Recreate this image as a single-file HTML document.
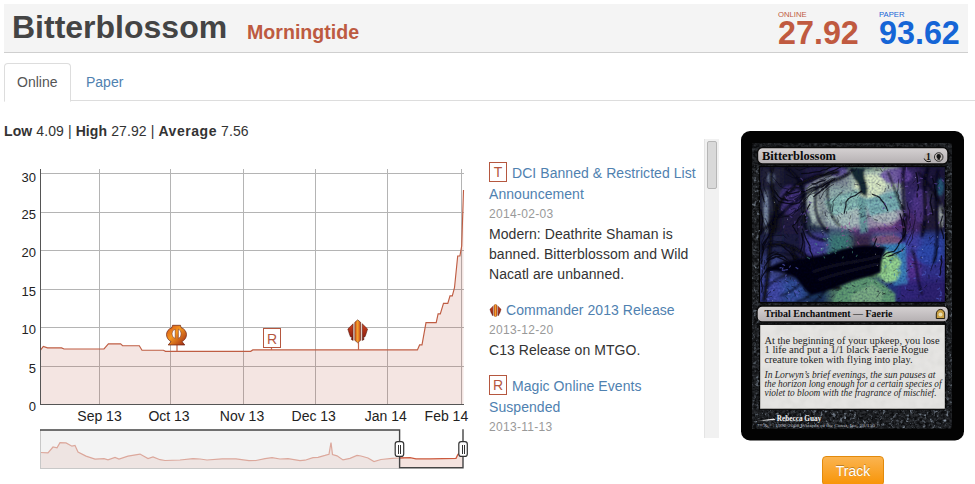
<!DOCTYPE html>
<html lang="en">
<head>
<meta charset="utf-8">
<title>Bitterblossom - Morningtide</title>
<style>
html,body{margin:0;padding:0;}
body{width:975px;height:484px;overflow:hidden;background:#fff;position:relative;
  font-family:"Liberation Sans",Arial,sans-serif;font-size:14px;line-height:20px;color:#333;}
.abs{position:absolute;white-space:nowrap;}
#hdr{position:absolute;left:4px;top:4px;width:964px;height:48px;background:#f4f4f4;border-bottom:1px solid #cfcfcf;}
#ttl{left:12px;top:9px;font-size:32px;line-height:36px;font-weight:bold;color:#444;}
#set{left:247px;top:20px;font-size:19.6px;line-height:24px;font-weight:bold;color:#bd5a41;}
.plab{font-size:7.7px;line-height:8px;}
.pval{font-size:32.3px;line-height:32px;font-weight:bold;}
.on{color:#c05a40;}
.pa{color:#1565d6;}
#tabs{position:absolute;left:4px;top:63px;width:971px;height:37px;border-bottom:1px solid #ddd;}
#tab1{position:absolute;left:0;top:0;width:65px;height:37px;border:1px solid #ddd;border-bottom-color:#fff;border-radius:4px 4px 0 0;background:#fff;}
#tab1 span{position:absolute;left:12px;top:8px;color:#555;}
#tab2{left:86px;top:72px;color:#4f81b0;}
a{color:#4f81b0;text-decoration:none;}
#stats{left:4px;top:121px;letter-spacing:.1px;}
#stats b{color:#333;}
.news{position:absolute;left:489px;}
.sym{box-sizing:border-box;width:18px;height:20px;border:1px solid #b5573f;color:#b5573f;text-align:center;line-height:18px;background:#fff;}
.ln{letter-spacing:.06px;}
.date{color:#999;font-size:12px;letter-spacing:.3px;}
#sb{position:absolute;left:704px;top:139px;width:14px;height:299px;background:#f1f1f1;border-left:1px solid #e4e4e4;}
#sbt{position:absolute;left:2px;top:2px;width:8px;height:46px;background:#d9d9d9;border:1px solid #b6b6b6;border-radius:2px;}
#track{position:absolute;left:822px;top:456px;width:60px;height:28px;border:1px solid #e28a0c;border-radius:4px;
  background:linear-gradient(#fbb450,#f89406);color:#fff;text-align:center;line-height:28px;text-shadow:0 -1px 0 rgba(0,0,0,.25);}
</style>
</head>
<body>
<div id="hdr"></div>
<div class="abs" id="ttl">Bitterblossom</div>
<div class="abs" id="set">Morningtide</div>
<div class="abs plab on" style="left:778px;top:11px;">ONLINE</div>
<div class="abs pval on" style="left:778px;top:17px;">27.92</div>
<div class="abs plab pa" style="left:879px;top:11px;">PAPER</div>
<div class="abs pval pa" style="left:879px;top:17px;">93.62</div>

<div id="tabs"><div id="tab1"><span>Online</span></div></div>
<a class="abs" id="tab2">Paper</a>

<div class="abs" id="stats"><b>Low</b> 4.09 | <b>High</b> 27.92 | <b style="letter-spacing:.55px">Average</b> 7.56</div>

<!-- CHART -->
<svg id="chart" class="abs" style="left:0;top:160px;" width="490" height="324" viewBox="0 160 490 324" font-family="Liberation Sans, Arial, sans-serif">
<g shape-rendering="crispEdges" stroke="#b4b4b4" stroke-width="1">
<path d="M99.5 169V405M170.5 169V405M243.5 169V405M315.5 169V405M387.5 169V405M461.5 169V405"/>
<path d="M40 173.5H464M40 212.5H464M40 250.5H464M40 289.5H464M40 327.5H464M40 366.5H464"/>
</g>
<path id="area" fill="#b5533c" fill-opacity="0.15" d="M40.5 405L40.5 350.2L43.3 346.4L47.5 347.9L61.6 347.9L64 349L104 349L108.4 343.9L120.6 343.9L122.6 345.7L139.3 345.7L142 350.2L163.4 350.2L165.5 351.3L250.7 351.3L252.8 349.9L417.4 349.9L419.6 344.9L422 344.9L426 322.6L436.2 322.6L438.1 313.8L440.3 313.8L443.5 303.3L447.8 303.3L450 295.8L452.3 295.8L454.5 287.7L457.7 256L459.9 256L461.7 246L463.5 190L463.5 405Z"/>
<path id="line" fill="none" stroke="#bf5d43" stroke-width="1.15" d="M40.5 350.2L43.3 346.4L47.5 347.9L61.6 347.9L64 349L104 349L108.4 343.9L120.6 343.9L122.6 345.7L139.3 345.7L142 350.2L163.4 350.2L165.5 351.3L250.7 351.3L252.8 349.9L417.4 349.9L419.6 344.9L422 344.9L426 322.6L436.2 322.6L438.1 313.8L440.3 313.8L443.5 303.3L447.8 303.3L450 295.8L452.3 295.8L454.5 287.7L457.7 256L459.9 256L461.7 246L463.5 190"/>
<g shape-rendering="crispEdges" stroke="#555" stroke-width="1">
<path d="M40.5 169V405M40 404.5H464"/>
</g>
<g font-size="13" fill="#222" text-anchor="end">
<text x="36" y="182">30</text>
<text x="36" y="219">25</text>
<text x="36" y="257">20</text>
<text x="36" y="295.5">15</text>
<text x="36" y="334">10</text>
<text x="36" y="372.5">5</text>
<text x="36" y="411">0</text>
</g>
<g font-size="14" fill="#222" text-anchor="middle">
<text x="99.5" y="420.7">Sep 13</text>
<text x="169" y="420.7">Oct 13</text>
<text x="242" y="420.7">Nov 13</text>
<text x="313.7" y="420.7">Dec 13</text>
<text x="385.8" y="420.7">Jan 14</text>
<text x="446.4" y="420.7">Feb 14</text>
</g>
<!-- annotations -->
<g stroke="#c4654c" stroke-width="1.2"><path d="M177 345V351M271.5 347V350M358.5 342V350"/></g>
<g id="ths" transform="translate(166.5 325.3)">
<defs><linearGradient id="og" x1="0" y1="0" x2="1" y2="1"><stop offset="0" stop-color="#cf4a1a"/><stop offset=".42" stop-color="#f5981f"/><stop offset="1" stop-color="#9a2214"/></linearGradient></defs>
<path fill="url(#og)" stroke="#6a1e10" stroke-width=".7" d="M6 0H14L14.500 2.200C18 3.500 20 6.300 20 9.300C20 12.500 18 15 15.500 16.300L18.300 19.700H1.700L4.500 16.300C2 15 0 12.500 0 9.300C0 6.300 2 3.500 5.500 2.200Z"/>
<path fill="#fff" stroke="#6a1e10" stroke-width=".5" d="M8.700 3.900V13.100A4 4.700 0 0 1 8.700 3.900Z"/>
<path fill="#fff" stroke="#6a1e10" stroke-width=".5" d="M11.900 3.900A3.400 4.700 0 0 1 11.900 13.100Z"/>
</g>
<rect x="263.5" y="328.5" width="17" height="19" fill="#fff" stroke="#b5573f" stroke-width="1" shape-rendering="crispEdges"/>
<text x="272" y="343.5" font-size="14" fill="#b5573f" text-anchor="middle">R</text>
<g id="c13" transform="translate(347.8 319.8)">
<defs><linearGradient id="cg" x1="0" y1="0" x2="1" y2="0"><stop offset="0" stop-color="#d2501a"/><stop offset=".5" stop-color="#f4a42c"/><stop offset="1" stop-color="#c43c18"/></linearGradient>
<linearGradient id="wg" x1="0" y1="0" x2="0" y2="1"><stop offset="0" stop-color="#cc421e"/><stop offset="1" stop-color="#80180e"/></linearGradient></defs>
<path fill="#f6efe6" d="M5 3.500L9.900 .3L14.800 3.500V20.700L9.900 22.800L5 20.700Z"/>
<path fill="url(#wg)" stroke="#4a120a" stroke-width=".5" d="M5.300 4L0 9.200L1.500 14L2.600 17L4.100 17.500L3.500 19.600L5.300 20.600Z"/>
<path fill="url(#wg)" stroke="#4a120a" stroke-width=".5" d="M14.500 4L19.800 9.200L18.300 14L17.200 17L15.700 17.500L16.300 19.600L14.500 20.600Z"/>
<path fill="url(#cg)" stroke="#4a120a" stroke-width=".5" d="M9.900 0L12.800 2.500V20.500L9.900 23L7 20.500V2.500Z"/>
</g>
<!-- navigator -->
<rect x="40.500" y="430" width="359" height="38" fill="#f3f3f3"/>
<path fill="#c4654c" fill-opacity=".10" d="M40.500 468L40.500 452.500L48 452.800L53 447L57 447.800L60 442.600L66 442.900L72 446.200L75 445.400L78 452L86 456.100L95 459.100L104 458.600L108 459.800L115 457.400L119 459.100L128 456.100L140 454.100L148 458.600L153 456.900L160 459.700L165 460.500L180 460L193 458.600L200 459L207 460L222 458.800L236 458.800L249 460.700L256 460.500L265 458.600L272 457.700L280 459L288 458.600L300 460.600L305 460.200L313 457.700L318 457.300L325 455.400L329 454.200L331 442.500L332.500 454.500L337 455.800L343 459.900L350 458.400L357 455.400L361 456L368 458L374 461.500L381 459.500L392 458.400L399.500 458L399.500 468Z"/>
<path fill="none" stroke="#dca89c" stroke-width="1.2" d="M40.500 452.500L48 452.800L53 447L57 447.800L60 442.600L66 442.900L72 446.200L75 445.400L78 452L86 456.100L95 459.100L104 458.600L108 459.800L115 457.400L119 459.100L128 456.100L140 454.100L148 458.600L153 456.900L160 459.700L165 460.500L180 460L193 458.600L200 459L207 460L222 458.800L236 458.800L249 460.700L256 460.500L265 458.600L272 457.700L280 459L288 458.600L300 460.600L305 460.200L313 457.700L318 457.300L325 455.400L329 454.200L331 442.500L332.500 454.500L337 455.800L343 459.900L350 458.400L357 455.400L361 456L368 458L374 461.500L381 459.500L392 458.400L399.500 458"/>
<path fill="#c4654c" fill-opacity=".18" d="M399.500 468L399.500 458L410 457.700L416 458.800L430 458.800L456 458.400L458 454.200L463 453L463 468Z"/>
<path fill="none" stroke="#cc5a3e" stroke-width="1.3" d="M399.500 458L410 457.700L416 458.800L430 458.800L456 458.400L458 454.200L463 453"/>
<g shape-rendering="crispEdges">
<path d="M40.500 430V468.500H399" fill="none" stroke="#c8c8c8" stroke-width="1"/>
</g>
<path d="M40 430H399.600V467.700H463V429.300" fill="none" stroke="#444" stroke-width="1.400" stroke-linejoin="miter"/>
<g fill="#fff" stroke="#333" stroke-width="1.2">
<rect x="395.200" y="441.600" width="8.500" height="14.800" rx="2.500"/>
<rect x="458.800" y="441.600" width="8.500" height="14.800" rx="2.500"/>
</g>
<path d="M398.500 444.500V453.500M400.500 444.500V453.500M462 444.500V453.500M464 444.500V453.500" stroke="#333" stroke-width="1" shape-rendering="crispEdges"/>
</svg>

<!-- NEWS -->
<div class="abs sym" style="left:489px;top:162px;">T</div>
<div class="abs ln" style="left:512px;top:163px;"><a>DCI Banned &amp; Restricted List</a></div>
<div class="abs ln" style="left:489px;top:184px;"><a>Announcement</a></div>
<div class="abs ln date" style="left:489px;top:204px;">2014-02-03</div>
<div class="abs ln" style="left:489px;top:224px;">Modern: Deathrite Shaman is</div>
<div class="abs ln" style="left:489px;top:244px;">banned. Bitterblossom and Wild</div>
<div class="abs ln" style="left:489px;top:264px;">Nacatl are unbanned.</div>
<svg class="abs" style="left:489px;top:304px;" width="13" height="13" viewBox="0 0 19.8 23"><path fill="#f6efe6" d="M5 3.500L9.900 .3L14.800 3.500V20.700L9.900 22.800L5 20.700Z"/><path fill="url(#wg)" stroke="#4a120a" stroke-width=".6" d="M5.300 4L0 9.200L1.500 14L2.600 17L4.100 17.500L3.500 19.600L5.300 20.600Z"/><path fill="url(#wg)" stroke="#4a120a" stroke-width=".6" d="M14.500 4L19.800 9.200L18.300 14L17.200 17L15.700 17.500L16.300 19.600L14.500 20.600Z"/><path fill="url(#cg)" stroke="#4a120a" stroke-width=".6" d="M9.900 0L12.800 2.500V20.500L9.900 23L7 20.500V2.500Z"/></svg>
<div class="abs ln" style="left:506px;top:300px;"><a>Commander 2013 Release</a></div>
<div class="abs ln date" style="left:489px;top:320px;">2013-12-20</div>
<div class="abs ln" style="left:489px;top:340px;">C13 Release on MTGO.</div>
<div class="abs sym" style="left:489px;top:375px;">R</div>
<div class="abs ln" style="left:512px;top:376px;"><a>Magic Online Events</a></div>
<div class="abs ln" style="left:489px;top:397px;"><a>Suspended</a></div>
<div class="abs ln date" style="left:489px;top:417px;">2013-11-13</div>
<div id="sb"><div id="sbt"></div></div>

<svg id="card" class="abs" style="left:741px;top:131px;" width="223" height="310" viewBox="741 131 223 310">
<defs>
<filter id="b3" x="-20%" y="-20%" width="140%" height="140%"><feGaussianBlur stdDeviation="3"/></filter>
<filter id="b2" x="-20%" y="-20%" width="140%" height="140%"><feGaussianBlur stdDeviation="1.6"/></filter>
<filter id="b1" x="-20%" y="-20%" width="140%" height="140%"><feGaussianBlur stdDeviation=".8"/></filter>
<filter id="nz" x="0" y="0" width="100%" height="100%"><feTurbulence type="fractalNoise" baseFrequency=".35" numOctaves="3" seed="4"/><feColorMatrix type="matrix" values="0 0 0 0 .55  0 0 0 0 .62  0 0 0 0 .72  .9 .9 .9 0 -1.02"/></filter>
<filter id="nz2" x="0" y="0" width="100%" height="100%"><feTurbulence type="fractalNoise" baseFrequency=".5" numOctaves="2" seed="9"/><feColorMatrix type="matrix" values="0 0 0 0 0  0 0 0 0 0  0 0 0 0 .05  1.2 1.2 1.2 0 -1.55"/></filter>
<filter id="nz3" x="0" y="0" width="100%" height="100%"><feTurbulence type="fractalNoise" baseFrequency=".12" numOctaves="2" seed="3"/><feColorMatrix type="matrix" values="0 0 0 0 .62  0 0 0 0 .62  0 0 0 0 .6  .8 .8 .8 0 -1"/></filter>
<filter id="nz4" x="0" y="0" width="100%" height="100%"><feTurbulence type="fractalNoise" baseFrequency=".3" numOctaves="3" seed="21"/><feColorMatrix type="matrix" values="0 0 0 0 .45  0 0 0 0 .55  0 0 0 0 .68  1.6 1.6 1.6 0 -2.55"/></filter>
<linearGradient id="bar" x1="0" y1="0" x2="0" y2="1"><stop offset="0" stop-color="#d6d2d3"/><stop offset="1" stop-color="#b4afb1"/></linearGradient>
<clipPath id="artclip"><rect x="759.500" y="166.500" width="186" height="136"/></clipPath>
</defs>
<rect x="741" y="131" width="223" height="309.500" rx="9" fill="#030303"/>
<rect x="752" y="143" width="200" height="285.500" rx="3" fill="#0b0c0e"/>
<rect x="752" y="143" width="200" height="285.500" rx="3" filter="url(#nz)" opacity=".25"/>
<!-- art -->
<g clip-path="url(#artclip)">
<rect x="759" y="166" width="188" height="138" fill="#16142c"/>
<g filter="url(#b3)">
<rect x="758" y="165" width="26" height="26" fill="#222034"/>
<rect x="782" y="165" width="25" height="26" fill="#18152c"/>
<rect x="805" y="165" width="25" height="26" fill="#241d44"/>
<rect x="828" y="165" width="25" height="26" fill="#2c3050"/>
<rect x="851" y="165" width="25" height="26" fill="#7a9a88"/>
<rect x="874" y="165" width="25" height="26" fill="#a0b8a0"/>
<rect x="897" y="165" width="25" height="26" fill="#36275f"/>
<rect x="920" y="165" width="27" height="26" fill="#1e1838"/>
<rect x="758" y="189" width="26" height="24" fill="#282c3e"/>
<rect x="782" y="189" width="25" height="24" fill="#211a40"/>
<rect x="805" y="189" width="25" height="24" fill="#4a5460"/>
<rect x="828" y="189" width="25" height="24" fill="#5a8a8a"/>
<rect x="851" y="189" width="25" height="24" fill="#7aa0a0"/>
<rect x="874" y="189" width="25" height="24" fill="#5a7a90"/>
<rect x="897" y="189" width="25" height="24" fill="#38296a"/>
<rect x="920" y="189" width="27" height="24" fill="#26223e"/>
<rect x="758" y="211" width="26" height="25" fill="#141422"/>
<rect x="782" y="211" width="25" height="25" fill="#221a3c"/>
<rect x="805" y="211" width="25" height="25" fill="#2a3848"/>
<rect x="828" y="211" width="25" height="25" fill="#4a5878"/>
<rect x="851" y="211" width="25" height="25" fill="#5a3a78"/>
<rect x="874" y="211" width="25" height="25" fill="#6a3a7a"/>
<rect x="897" y="211" width="25" height="25" fill="#46296a"/>
<rect x="920" y="211" width="27" height="25" fill="#221a36"/>
<rect x="758" y="234" width="26" height="24" fill="#202848"/>
<rect x="782" y="234" width="25" height="24" fill="#1e1a3a"/>
<rect x="805" y="234" width="25" height="24" fill="#46409a"/>
<rect x="828" y="234" width="25" height="24" fill="#3e7a74"/>
<rect x="851" y="234" width="25" height="24" fill="#3a2a48"/>
<rect x="874" y="234" width="25" height="24" fill="#3a6a9a"/>
<rect x="897" y="234" width="25" height="24" fill="#4040a0"/>
<rect x="920" y="234" width="27" height="24" fill="#2e44a0"/>
<rect x="758" y="256" width="26" height="25" fill="#3a4484"/>
<rect x="782" y="256" width="25" height="25" fill="#1a1a34"/>
<rect x="805" y="256" width="25" height="25" fill="#10101c"/>
<rect x="828" y="256" width="25" height="25" fill="#0e0e18"/>
<rect x="851" y="256" width="25" height="25" fill="#141820"/>
<rect x="874" y="256" width="25" height="25" fill="#6aa070"/>
<rect x="897" y="256" width="25" height="25" fill="#553090"/>
<rect x="920" y="256" width="27" height="25" fill="#30308a"/>
<rect x="758" y="279" width="26" height="25" fill="#4048a4"/>
<rect x="782" y="279" width="25" height="25" fill="#30509a"/>
<rect x="805" y="279" width="25" height="25" fill="#1e3860"/>
<rect x="828" y="279" width="25" height="25" fill="#4a7060"/>
<rect x="851" y="279" width="25" height="25" fill="#5a9068"/>
<rect x="874" y="279" width="25" height="25" fill="#22347a"/>
<rect x="897" y="279" width="25" height="25" fill="#30287a"/>
<rect x="920" y="279" width="27" height="25" fill="#2e2470"/>
</g>
<g filter="url(#b1)">
<path d="M806 186L826 172L850 170L884 172L904 186L906 214L892 226L850 230L816 226L806 210Z" fill="#d2e2d8" opacity=".5"/>
<ellipse cx="896" cy="176" rx="16" ry="8" fill="#6848a6" opacity=".75"/>
<ellipse cx="790" cy="200" rx="11" ry="15" fill="#4a3888" opacity=".7"/>
<ellipse cx="921" cy="206" rx="9" ry="17" fill="#5a3c98" opacity=".6"/>
<ellipse cx="838" cy="172" rx="10" ry="5" fill="#5a40a0" opacity=".65"/>
<ellipse cx="870" cy="186" rx="16" ry="12" fill="#dcecc6" opacity=".95"/>
<ellipse cx="846" cy="218" rx="20" ry="9" fill="#b4d0c4" opacity=".7"/>
<ellipse cx="884" cy="216" rx="14" ry="7" fill="#b8d4c8" opacity=".6"/>
<path d="M850 168L866 168C860 176 872 186 866 197L859 193C862 184 850 178 850 168Z" fill="#182a30"/>
<path d="M824 201L858 189L861 207L832 216Z" fill="#8cc2ba" opacity=".9"/>
<path d="M865 199L898 190L902 209L870 216Z" fill="#7ab6b8" opacity=".9"/>
<path d="M858 196L866 198L868 232L860 234Z" fill="#5c9a98" opacity=".8"/>
<path d="M807 192L816 186L820 214L812 226Z" fill="#b9cdc4" opacity=".75"/>
<ellipse cx="766" cy="212" rx="2.500" ry="22" fill="#93a7c0" opacity=".8"/>
<ellipse cx="771" cy="178" rx="4" ry="6" fill="#8296b4" opacity=".7"/>
<ellipse cx="941" cy="216" rx="3" ry="12" fill="#b4c0b8" opacity=".8"/>
<ellipse cx="940" cy="187" rx="4" ry="9" fill="#256680" opacity=".8"/>
<ellipse cx="887" cy="240" rx="15" ry="5" fill="#94506e" opacity=".7"/>
<path d="M883 246L904 244L906 280L888 282Z" fill="#2a72a4" opacity=".7"/>
<ellipse cx="929" cy="255" rx="13" ry="10" fill="#2c4cb0" opacity=".75"/>
<path d="M883 244L906 243L908 284L894 286Z" fill="#3a88c0" opacity=".75"/>
<path d="M839.600 285.700L867.400 275.800L883.300 283.700L895.300 293.700V304H831.600Z" fill="#5f9a72"/>
<path d="M850 296L872 284L884 292L880 304H852Z" fill="#86b48a" opacity=".7"/>
<path d="M886 250.500L896 254.500L901.500 262.500L898.500 268.500L901 272.500L896.500 280.500L886 283L878 273L882 259Z" fill="#96d690"/>
<path d="M889 259.500L896.500 258M897 273.500L900 273M884 262C886 266 886 270 884 274" stroke="#1c2c20" stroke-width=".9" fill="none"/>
<path d="M832 196L856 192M830 206L858 200M868 202L896 196M870 210L898 204" stroke="#1e3a40" stroke-width=".7" fill="none" opacity=".7"/>
</g>
<g filter="url(#b1)" fill="none" stroke="#07070d" stroke-linecap="round">
<path d="M764 300C772 262 766 226 782 200C792 184 812 176 838 172" stroke-width="3.500"/>
<path d="M760 232C776 222 790 200 820 186C834 180 846 178 852 170" stroke-width="2.500"/>
<path d="M772 168C768 190 780 204 774 232" stroke-width="3"/>
<path d="M786 168C800 176 806 190 804 214C802 232 812 240 826 240" stroke-width="2.500"/>
<path d="M818 186C812 204 816 222 828 232" stroke-width="1.800"/>
<path d="M828 182C826 200 830 218 840 226" stroke-width="1.300"/>
<path d="M904 168C900 190 908 220 904 240" stroke-width="2.200"/>
<path d="M888 172C896 190 898 206 910 220" stroke-width="1.300"/>
<path d="M928 168C920 190 930 210 922 236" stroke-width="2.500"/>
<path d="M938 170C932 200 942 230 934 262" stroke-width="2"/>
<path d="M918 172C934 190 940 200 944 214" stroke-width="1.500"/>
<path d="M768 246C786 240 800 250 812 262" stroke-width="3"/>
<path d="M792 250C800 270 816 286 840 288" stroke-width="3"/>
<path d="M912 250C918 262 916 280 922 294" stroke-width="1.500"/>
</g>
<g filter="url(#b1)">
<path d="M886 248C870 243 850 246 833 252C815 258 800 258 782 262C774 264 768 268 764 272C776 270 788 272 796 278C802 286 806 292 812 295C826 292 840 286 852 281C864 277 874 276 881 272C880 264 882 256 886 248Z" fill="#06060b"/>
<path d="M800 258C790 254 780 252 770 254M790 274C782 276 774 280 768 286M800 284C794 290 788 294 780 296M812 294C808 298 802 300 796 302M826 290C822 296 818 299 814 302" stroke="#06060b" stroke-width="1.200" fill="none"/>
<path d="M812 272C840 262 862 262 880 256M818 280C842 272 862 268 878 264" stroke="#34344a" stroke-width=".7" fill="none"/>
</g>
<!--strokes-->
<path d="M769.9 233.2L767.9 237.4L765.1 241.1L762.3 244.8L762.6 249.4M786.4 191.8L789.7 193.8L793.5 193.2L797.2 192.2L801 191.6L804.9 191.3L808.4 189.8L811.8 187.9L815.6 187.5M813.7 196.7L816.8 194L820 191.5L823.5 189.4L826 186.1L829.5 184.1M766.5 239.3L765.7 242.3L764.1 245L763.4 248.1L763.1 251.2L762.3 254.2L761.9 257.3L762 260.4L761 263.3M900 213.9L901.3 217.6L902.2 221.5L902.3 225.5L903.5 229.3L903 233.3L902.8 237.3L901.6 241.1L898.4 243.5M820.1 175.3L824.3 174.9L827.8 172.7L831.7 171.4L835.5 169.7L839.2 167.8L842.7 165.6L846.6 164.3L850.7 163.3M801.7 173.6L805.3 173.4L808.9 173.2L812.4 172.3L816 171.9L819.6 171.7L822.8 170L826.4 169.6L829.5 167.6L832.7 166.1M774 196.5L776.6 198.9L778.7 201.6L782.2 202.3L785.5 203.2L789 203.7L792.5 204.2L795.9 203.7L799.3 202.7L801.4 199.9M782.7 256.7L779.5 256.1L776.2 256.4L773.1 257.6L770.2 259.1L767.6 261.2M760.8 209.8L761.4 213.9L762.7 217.9L762.4 222.1L761.8 226.3L761.7 230.5L760.7 234.6M814.5 263.5L813.2 259.1L812.1 254.7L810.1 250.5L809.9 245.9L807.7 241.9L805.6 237.8L804.1 233.4L802.5 229.1L801.6 224.6M760.5 182.8L760.1 187.6L761.7 192.3L763 197L764.2 201.8M942.4 216.1L941.7 219.3L940.7 222.4L940.9 225.6L941.1 228.9L942.1 231.9L943.1 235L943.5 238.3M811.9 183.8L815.3 183.7L818.3 182.1L821.6 181.2L825 180.7M903.2 219.4L904.5 223.6L905 228L905.6 232.3L903.8 236.3M931.9 194.1L931 198.2L930.3 202.4L931.3 206.5L932.3 210.6L932.9 214.8M797.4 233.8L795.7 231.2L794.3 228.5L792.5 226L794.8 224L797.1 222L798.1 219.1L800 216.6L801.7 214.1L803.4 211.6M774.2 190.4L776.5 193.2L778.3 196.4L781.1 198.8L784.8 199L788 200.9M800.4 251.7L801.9 247.1L802.9 242.4L802.6 237.6L801.2 233M905.3 232.1L904.7 235.9L902.3 238.8L899.9 241.8L898.5 245.3L896.5 248.5L894 251.4L890.3 252.2L886.6 253.1L883.7 255.5M941.4 255.9L941.1 259.2L941.9 262.4L941.1 265.6L940.3 268.8L940.8 272.1L939.9 275.3M821.7 187.2L823.9 185.1L826.5 183.5L829.4 182.5L831.9 180.7L834.6 179.3M771.7 267L767.7 268.6L765.1 272L762.6 275.6L760.8 279.5L761.8 283.7L762.4 288L761.8 292.2M903.8 249.4L901 251.2L897.8 252.2L894.7 253.5L891.8 255.1L888.6 256.2M932.2 176.1L932.8 179.1L933.8 182.1L934.6 185.1L934.7 188.2L935.7 191.1L934.9 194.1L935.8 197.1L936.3 200.2M872.3 194.3L876 195.6L879.5 197.4L881.8 200.6L884.3 203.5L886.2 207L887.6 210.6M795.2 262.7L793.9 259.6L793 256.5L791.1 253.8L789 251.3L786.3 249.5L783.9 247.2L781.3 245.3M789 263.8L786.4 261.2L783 259.5L779.6 257.9L776.1 256.8L772.8 258.6L769.1 259.4L767.3 262.7L764.9 265.5L764.2 269.2M944.6 200.1L945.1 203.5L944.6 206.8L945.7 210L945.6 213.4L945.8 216.8L946.9 220L947.4 223.3M916 172.7L917.2 177.5L917.5 182.4L918.5 187.3L917 192L917.2 196.9M786.7 259.4L784 256.8L780.7 254.9L776.9 254.1L773.2 255.1L770.1 257.3L766.8 259.2M816 194.6L819.7 192.5L822.1 189L826.1 187.4L828.7 184.1M844.2 213.1L845 209.4L845.9 205.6L846 201.8L848.4 198.8L851.7 196.8L855.3 195.5L858.3 193.2L861.6 191.2M876.5 238.9L875.2 242.3L874 245.6L871.7 248.4L869.5 251.3L866.6 253.3M806 223.1L805 219.2L805.1 215.1L806.3 211.3L807.9 207.6L809.9 204.1" fill="none" stroke="#06060c" stroke-width="1.2" stroke-linecap="round" stroke-linejoin="round" opacity=".85"/>
<path d="M938.4 245.8L936.7 249.9L936.7 254.2L935.2 258.3L933.6 262.4L932 266.5L930.7 270.6M763.9 180.6L763.5 184.8L764.4 189L766.5 192.7L767.4 196.8M791.9 265.4L790.1 262.4L788.3 259.5L785.5 257.4L782.6 255.4L779.2 254.6L776 253.3L772.5 252.9L769.5 254.6M820.4 198.7L822 195.8L823.4 192.7L825.5 190.1L828.3 188.2L830.6 185.8L833.7 184.5M811.2 182L813.6 180.2L816.4 178.8L819.1 177.3L822 176.4L824.9 175.2L827.9 174.5L830.8 173.4L833.7 172.4M832.4 211.4L832.6 208.1L833.2 204.8L832.9 201.5L834.8 198.9L837.2 196.5L839.3 194L841.9 192M786.2 237.9L783.2 235.1L779.1 235.4L774.9 235.1L770.9 236L767.5 238.3L764.3 241L762.7 244.8L763.2 248.9M800 264.3L801 259.7L802.3 255.2L803.3 250.7L804.1 246.1L803.9 241.4L802 237.1L802.7 232.5M915.4 210.7L914.9 214.7L915.2 218.8L914.5 222.7L913.5 226.7L914 230.7L912.7 234.5L912.4 238.6L910.5 242.1L908.4 245.6M774.7 290L770.5 291.8L767.2 294.9L766.5 299.4L765.8 303.9L765.1 308.3L763.2 312.4M795.7 168.8L799.3 170.4L803.1 169L806.8 167.6L810.6 166.6M902.5 205.1L903.1 210.1L904.5 214.8L906.6 219.4L907.1 224.3M765.2 218.6L767.4 223.1L768.7 227.9L770.4 232.6L768.1 237L766.6 241.8L763.6 245.7L763.2 250.7M797.9 231.2L797.6 226.5L798 221.7L800.6 217.7L801.4 213L801.3 208.2L802 203.5M788.4 198L792.3 197.9L795.8 196.4L799.3 194.9L802.5 192.8L805.7 190.7M818.8 187.2L822.5 184.3L826.5 181.6L830.6 179L835.4 178.4M907 202L907.8 206.7L909.6 211L909.4 215.7L909.3 220.5L910.6 225L909 229.4M780.1 245.5L775.5 244.1L770.9 245.2L766.5 247.2L763.1 250.5L762 255.1L760.7 259.7L762.1 264.3M912.3 228.2L911.9 233L909.6 237.1L907.7 241.4L906 245.9L902.7 249.3L899.2 252.4L895.2 255.1L890.6 255.8L885.9 256.7M775.3 216.2L779 217.2L782.7 217.2L786.4 216.4L790.2 216.5L793.5 214.5L795.7 211.5L799 209.6L802 207.3L803.8 203.9M772.4 176.7L775 179.9L777.8 182.9L780 186.4L783.6 188.2L787.7 188.9L791.1 191.2M806.7 188.7L809.6 186.3L812.7 184.5L816.4 184.3L819.3 182L822.6 180.5L826.1 179.3M800.3 204L803 201.3L805.5 198.5L808 195.6L811.4 194.1L815 192.9M786.9 244.5L782.9 241.6L778 241.6L773.1 240.8L768.3 242L765.4 246L763.6 250.6L762.5 255.4M898.8 179.8L898.4 183L898.3 186.2L897.8 189.4L897.3 192.5L898.7 195.4L898.6 198.7L900.2 201.4L901.5 204.4L901.9 207.6M804.8 264.6L805.5 261.1L806.2 257.7L805.4 254.3L804.5 250.9L804.6 247.4L804.8 243.9L804.2 240.5L803.3 237.1L803.2 233.6M779.2 214L782.9 216.2L787.2 216L791 214L794.2 211.2L798.2 209.6L801.2 206.6M761.9 217.8L763.5 221.7L765.3 225.6L767.2 229.5L765.4 233.4L763.9 237.4L762.2 241.4L761 245.5L761.3 249.8L761.3 254.1M778.6 252.8L775.4 251.6L772.3 253L769.1 254.1L767.3 257.1M807.6 197.3L810.1 194.1L812.8 191.2L816.1 188.9L819.7 187.3L823.6 186.4L826.4 183.5L829.7 181.3L832.7 178.7M786.7 174.5L789.7 176L792.6 177.6L796 178L799.3 177.4M770.8 186.7L772.4 191.3L776.3 194.2L779.6 197.8L784 199.9L788.8 200.7L793.6 200L797.8 197.6L801.2 194.1L805.1 191.1M819.7 180L823.4 179.2L826.6 177.2L830.3 176.3L833 173.7L836.5 172.5M794.1 212.5L797.4 210.9L798.6 207.4L800.8 204.3L803.6 202L806.6 199.7L808.2 196.3M764.4 260.3L764.3 263.7L763 266.8L762.6 270.2L762.4 273.6L760.8 276.6L761.8 279.8" fill="none" stroke="#08080f" stroke-width=".7" stroke-linecap="round" stroke-linejoin="round" opacity=".8"/>
<path d="M927.8 214.9l1.4 -0.7M926.2 208.5l0.9 -2.4M884.2 224.2l1.7 1.4M909.8 220.8l0.6 -2.4M932.1 177l-1.2 0M939.6 188.6l-0.5 -1.3M895.1 226.6l-2.2 0.6M918.1 202.8l-1.1 0.9M906.1 212.2l-1.9 0.2M890.3 197l1 0.8M920 182.2l-2.3 1.2M942.2 179.8l1.2 1.4M937 184l-2.2 -0.5M928.6 221l-0.4 1.5M897.1 185.3l-0.1 1.8M891.9 184l-0.5 2.4M892 172.4l-0 1.5M913.7 212.2l1.5 1.1M882.4 168.3l1.1 -1M908.7 193.4l1.1 -1.1M883.2 208.8l0.7 -1.3M884.8 202.9l0.9 1.8M929.6 213.2l2.1 0.1M925.4 191.8l1.6 0.4M882.8 236l2.2 0.5M938.5 223.4l0.7 -1.6M903.8 210.2l1.1 0.6M911.7 200.9l-1.9 1.3M922.5 178.5l-2.1 -0.4M905.5 186.4l2.1 -0.2M906.7 171.5l-0.1 -2.4M906.5 169.2l0.2 -2.3M921.2 194.6l-2.1 1.4M907.8 178.6l1 0.9M917 192.8l0.2 -1.4M883.3 177.7l0.6 -1.6M916.7 231.1l-0.1 -1.4M902.3 179l0.6 1.1M904.6 219.2l0.6 -2.2M899.3 224.9l2.4 0.7" fill="none" stroke="#6a4ca8" stroke-width="1.2" stroke-linecap="round" opacity="0.7"/>
<path d="M790.1 210l-0.9 -1M802.8 214.5l1.6 -1.3M807.4 210.8l-1.1 -1M795.1 207.7l2.4 0.7M785 196.1l1.5 2.1M806.1 186.8l1.8 -1.6M801.5 213.4l-0.8 1.6M794.6 223.5l0.4 -2.1M789.9 190l-1.3 1.1M796.1 186l2.6 0.1M794.9 201l-1.7 -1.6M806.8 221.4l-1 0.8M791.5 196.5l0.6 -1.8M801 178.3l1.7 1.8M790 216.3l2 1.1M808.6 212.6l0.3 -1.2M782.1 210.4l-0.5 -1.3M784.2 225.6l-0.6 2.3M805.4 214.4l-0.3 -1.5M806.7 210.2l-0 1.7M799.6 226.7l-1.5 0.4M810.9 202.9l-1.7 -1.1M787.6 196.8l0.6 1.7M800.4 191.6l-0.8 1.5M805.3 190.8l0.1 -1.3M807.5 230.1l-1.8 0.6M802 226.2l-0 1.9M807.4 217.3l-1.2 1.2" fill="none" stroke="#5a4498" stroke-width="1.2" stroke-linecap="round" opacity="0.65"/>
<path d="M919.4 252.2l-0.6 1.1M914 278.5l1.6 -0.4M925.1 261.4l2.4 -0.5M941.2 294.2l-0.2 -2.2M913.6 260.3l-1.3 -1.3M919.2 246.7l-2.1 0.1M906.8 247l-1.5 -0.7M925.4 273.9l-1.4 0.8M910.2 264.5l0.7 -1.3M905.6 288.9l-0.5 -1.8M907.5 252.1l-0.8 -1.4M936.7 298.2l2.2 0.8M939.8 277.3l-1.8 -1M925.2 271.6l0.6 1M907.4 245.4l0.6 1.3M940.6 249.9l-1.6 -1.4M912.7 267.1l-2.1 -0.2M930.3 267.3l-1.4 -1.2M907.5 279.1l2.2 -0.1M923.6 274.2l-1.3 1.3M940.6 248.5l-0.8 -1.2M943.9 258.6l-0.8 -1.1M939.8 295.8l1.5 -0.6M907 279.6l-0.9 -2M940.8 298.4l-0.7 2.4M939.9 248.8l-1.4 -0.1M940.3 291.1l0.4 1.4M940.7 254.7l-1.6 1.3M919.8 291.7l2.3 -1.2M937.8 274l-1.9 0.3M905.2 245.5l1.5 -0.4M939.5 288.2l-1.6 1.3" fill="none" stroke="#4a5ac0" stroke-width="1.2" stroke-linecap="round" opacity="0.7"/>
<path d="M783 270.3l1.3 0.3M785.3 270l2.2 -0.3M762.2 269.1l-0.8 -1M763.6 265.7l1.4 -1.8M768.8 299.3l-2.1 -0.5M795.3 292l-0.4 -1.7M770.6 271.5l2.5 0.5M796.5 291.9l1.9 1.2M785.7 281.7l1.6 1.7M786.2 274.9l-0.8 1.3M774.7 298.4l2.2 0.7M796.5 292.5l-1.5 -1.1M772.2 291.6l0.3 -1.2M781.2 267.6l-1.2 0.2M783.1 290.4l0.9 -1.8M772.2 280.1l-1.6 -0.2M790.3 266l-0.8 1.1M788.1 294.5l2 -0.4M798.3 283.1l-1.3 -0.7M792.8 298.7l0.2 1.4M797.6 292.4l-2.6 0.2M782.9 267.9l-0.6 1.2M797.2 297l-0.1 -1.8M786.2 277.8l-0.6 1.7M782.3 270.3l2.1 -0.2M797.8 268.7l-1.8 -1.2M784.6 265.3l-1.7 -0.9M794.9 280.7l-1.6 -0.5M779.1 289.5l-0.1 1.5M774 287.8l-0.6 -1.8M771.4 291.9l1 -1.8M789.2 300.1l-0.3 -2" fill="none" stroke="#5a60c4" stroke-width="1.2" stroke-linecap="round" opacity="0.7"/>
<path d="M853.5 228.6l1.5 -0.4M901.4 249.9l1.1 1.8M841.4 226.2l1 1.3M849.5 229.7l1.9 1.6M848.2 246.8l-1.2 0.3M893.5 234.2l0.4 2.5M849.4 222.6l-0.1 2.2M826.4 228.8l1.3 -1.7M872.4 240.1l1.2 -1.8M877.5 246.6l-1.3 -1.6M844.1 227.1l1.3 1.3M846.5 241.6l1.2 -0.9M857.6 242l1.3 2M864.1 222.6l1.2 -1.5M878.2 246.4l1.3 -1M826.8 245.3l1.1 -0.7M845.8 228.1l-0.5 -2.5M841.8 231.7l1.1 -1.5M842.2 235.3l2.3 0.2M855.2 231.6l-0.1 -1.8M904.2 227.1l-2.5 -0.2M883.6 239.2l-1 -1.2" fill="none" stroke="#9a5498" stroke-width="1.2" stroke-linecap="round" opacity="0.65"/>
<path d="M892.4 246.3l2.2 1.1M897.8 269.6l-1.2 -0.7M890.7 259.2l2.5 -0.7M905.9 280.5l-1.4 0.3M904.4 246.6l0.4 -1.4M898.1 271.4l0.6 -1.3M898.7 275.6l0.5 -1.7M905.9 272.9l-1.4 -1.9M894.3 273.8l0.3 2.2M899.1 281.3l-0.8 -1.7M901.7 274.4l-1.3 1.6M891 262.4l-0.9 -0.9M903.7 249.8l-0.6 1.6M885.9 265.5l-1.1 2.2M895.7 257.1l-1.8 -1M888.6 246.7l-0.5 2M896.7 276.5l0.7 1.7M901.3 251.9l-1.6 1.1" fill="none" stroke="#4a94bc" stroke-width="1.1" stroke-linecap="round" opacity="0.65"/>
<path d="M835.4 251.1l1.3 -0.2M852.3 248.1l-1.1 -1.2M828.7 240.7l2.1 1.1M838.9 238.6l1.3 1.2M848 246.4l-1.8 -0.7M852.5 251.4l0 1.4M834.8 252.2l0.9 1.4M840.4 246.9l-0.5 1.8M824.7 258l-0.7 -1.3M820.9 250.2l1.3 0.2M842.7 258l0.5 -1.2M828.1 252.7l0.9 1.2M824.1 238.8l1.8 1.2M819.8 253.1l-2.3 -0.8M816.5 243.5l-0 1.3M816.8 243.8l-1.7 0.1M857.1 255.2l-0.8 1.2M828.5 238.6l0.8 2.1M807.4 257.4l2.2 1.4M823.1 248.2l-1.7 1.1M823.1 238.4l2.3 0.7M827.6 252.9l1.8 0.7" fill="none" stroke="#4e9c86" stroke-width="1.1" stroke-linecap="round" opacity="0.55"/>
<path d="M860.8 218.1l0.4 -3.2M887.6 285.4l-1.2 1.1M877.4 251.6l-1.6 2.7M920.9 224.2l2.3 3M763 284.8l0.9 2.1M891.5 283.5l-1.4 0.8M764.3 243.7l-1.5 3.5M852.3 237.7l-2.9 -1.9M838.2 261.1l-1.6 -0.6M886 247.4l-3.1 -0.2M789.2 271l-0.9 -1.4M847.6 288l-2.6 -0.1M762.2 257.5l-2.9 2.2M800.8 183.8l2.1 -0.5M865.5 228.1l1.1 3.7M828 268l-0.8 -1.7M900.6 206.9l0.3 2.7M884 287.2l-1.4 -0.8M766.4 175.6l-1 3M874.6 219.8l2.9 0.6M937.2 279.8l-0.8 2.1M935.5 265.4l-0.4 1.9M938.8 183.2l-1.3 1.4M908.4 231.7l-1.6 2.1M810.7 269l-0.8 -2M875.2 255.1l-3 -0.4M920.9 265.1l-0.1 1.9M914.1 246.1l-2.1 0.4M832 218.1l0.1 -2.1M843.8 260.1l-2.2 -0.1M789.5 291.3l-1.9 -2.9M813.7 186.4l3.9 0.8M787.6 298.7l-2.1 -1.9M903.9 234.7l-1.1 2.6M849.9 218.8l0.8 -3.2M941.7 209.1l1.7 1.8M891.2 292l-1.5 0M831.5 240.2l-1.8 -1.6M772.1 221.1l1.6 1.4M914.2 210.7l0.1 2M799.7 179.9l2.1 0.8M867.1 215.8l3.6 0.8M805.9 291.6l-2.1 -3M829.1 229.8l-2.2 -0.4M766.1 205.2l0.4 1.7M798.3 284.6l-0.6 -2.9M799.9 292l-1.3 -1.2M842.9 247.3l-1.6 -0.8M916.2 213.1l-1.7 1.8M765.6 172.2l1.5 2.9M850.3 281.2l-3 -2.1M878.6 291.5l-1.7 -0.1M819.3 198.9l-0.1 -3.8M853.9 192.1l2.4 0.3M803.9 264.4l-1.5 -3.5M934.1 175.5l-0.1 1.6M930.1 202.2l0 3.3M901 232.5l0.9 2.1M761.6 194.3l-1 2.8M841.9 255.3l-2.3 -0.8M832.5 217.9l-1.4 -2.2M909.5 290.5l-2.5 -0.9M928.9 274.9l0.1 3.6M774.9 250.7l-2.9 1.7M904.1 296.3l-2.2 -1.1M764.5 177.6l-1.2 2M803.7 183l2.1 -1M896.3 191.7l1 3.6M841.5 187.6l1.6 -1.4M765.2 244.3l-0.2 3.5M808.6 182.2l2.6 -0.9M788.8 236.6l-2 -2.8M931.2 242.8l-1.1 1.4M899.8 298.1l-2 0.7M804.5 199.5l1.5 -2M790.4 279.4l0.2 -1.9M878.5 227l1.3 2.5M842.2 273.7l-1.2 -1.9M826.9 173l1.8 -1.2M793.8 280.9l-0.9 -1.9M792.9 248.3l0.4 -3.7M895.3 269.9l-1.7 0.8M884.1 252l-1.3 1.9M762.4 260.6l-0.7 3.5M929.5 237.2l0.4 2.2M878.4 294.7l-1.3 2.1M901.3 185.4l-0.5 2.1M864.4 300.1l-0.7 3.2M866.6 282.9l-3.5 1.4M939.2 177.1l0.5 2M913.6 290.2l-3.7 0.1M866.8 288.3l-1.4 1M895.4 227.5l2.5 2.4M785.3 200.3l2.7 -1.4M791.5 209.5l3.6 -1.4M764.1 292.1l-1.3 1.7M915 253.2l-1.5 1.5M842.5 214.7l-1.5 -1.3M810.9 230l-0.4 -3.4M780.8 183.8l0.8 2.7M802.5 198l2.4 -1M833.7 295l-2.1 2.3M888.5 247.8l-1.4 0.8M939.6 174.5l0.6 2.4M915.2 263.7l-2.9 -0.2M942.4 210.6l0.5 2.9M820.4 187.2l2.3 -0.6M921.1 256.7l0.2 1.8M795.1 211.1l1 -3M802.1 224.1l-0.7 -3.9M844.2 173.8l3.7 1.3M767.9 283.9l-2.7 2.7M875.5 252l-1.6 -0M779 183.9l2.1 -0.1M767.8 182.7l1.1 1.6M771.6 296.5l-3.7 0.5M776.1 246.9l-2.4 -1.1M854.9 286.6l-2.6 -1.3M811.1 266.5l0.6 -2.1M844.3 261l-2.5 0.3M861.7 216.8l2.2 -0.3M848.7 277.6l-1.9 1.4M795.3 240.9l1 -2.3M931 189.3l-1.6 1.7M820.6 203.8l1.7 -1.1M771 170.4l1.2 2.8M824.7 256l-1.9 -3M825.8 270.1l-2.4 -3.2M885.5 293.1l-3 1.2M786.4 194.7l2 0.9M915.3 180.3l-2.4 2.9M944.2 203.6l-0.6 3M890.3 223.1l2.1 1.5M862 183.3l3.9 -0.7M788.1 281.8l-2.9 -1M781 282.1l-2 -0.9M825.6 215l-0.4 -3M880.1 168.4l2.2 3.3M830.7 207.9l0.5 -3.5M840.9 218.2l-2.6 -2.4M821.4 297.8l-1.9 -0.9M820.6 298.3l-2.5 -3M765.2 202l-0.7 2.1M859.5 209.5l2.2 -1.4M912.8 265.3l-2.4 1.2M768 258.5l-0.8 1.3M773.1 198.3l2.1 1.8M880.2 292.4l-1.3 1.5M838.2 221.5l-0.5 -3.7M868.9 260.5l-1.7 -0.4M827.4 216.8l-1.9 -1.3M792.9 255.7l-1.5 -1.9M933.1 235.9l-2.1 2.2M857.2 277.3l-3.3 1.7M836.6 175.6l1.6 -0.7M865.6 252.4l-3.2 -0.1M762.5 167.9l-0.7 2.8M929.7 221l1 1.2M765.9 191.1l-0.4 2.9M921.2 288l-1.4 1.3M797.1 248.4l-1.8 -2.2M854.5 171.4l2.3 -3.1M851 230.4l-3.2 -1.3M880.4 259.6l-1.9 0.1M804.5 204.5l-0.4 -3M919 295l-0.2 2M875.6 170.1l2.5 0M901.5 173.4l1.6 1.4M801.6 188.9l1.9 -0.4M761.6 284.1l-0 2.5M807 286.8l0.5 -1.6M885.5 258.3l-2.5 0.2M834 263.2l-3.6 0.4M776.6 190.4l1.3 0.8M923.3 220.8l0.6 2.3M921.3 212.7l-0.7 3.8M838.4 290.3l-2.5 -0.1M846.7 213.8l-0.3 -2.2M765.2 275.8l0 1.8M796.7 240.8l0.6 -2.8M846.7 274.4l-2.4 0.5M800.4 222l0.8 -2.8M815.3 231.5l-2.8 -2.4M885.1 294.2l-2.6 -1.5M841.7 300.7l-2.3 0.9M854.6 184.4l3.2 0.4M777.4 282.1l-3.3 -0.7M765.8 264.1l0.2 1.5M891.6 260.9l-2 -0.7M795.2 287.4l-3.6 -1.2M909.1 269.5l-2.7 1.9M776.7 206.3l1.3 2.2M826.2 281.1l-2.6 -1.7M876.5 283.6l-1.6 -1.1M828.1 275l-1.9 -3.2M765.2 262.2l-1.3 3.8M834.4 289.4l-1.9 1.1M810.5 249.4l-1.8 -2.6M835.2 249.3l-3 -1.5M789.3 266.8l-1.5 -2.7M934.2 243.4l0.9 2.6M856.6 292l-2.9 0.3M933.1 182.5l-1.3 2.8M926.7 285.2l-2.1 2.5M940.2 259.1l1.4 1.8M903.9 214l-1.2 2.2M897.8 301.7l-2 0.3M857.8 214.4l2.5 -0.9M823.3 235.2l-1.2 -3.4M876 235.9l-0.8 1.8M884.7 281.4l-2.5 -1.1M795.4 295.6l-0.8 -2.8M792.7 189.5l1.8 1M808.5 297.1l-2.3 -0.4M777.6 253.1l-2.5 2M850.2 232.4l-1.2 -1M888.1 185.4l0.7 3.2M785.1 262.7l-1.5 -1.5M876.6 183.4l3.4 1.9M885.4 188.3l-0.7 3.5" fill="none" stroke="#0a0a14" stroke-width="0.8" stroke-linecap="round" opacity="0.6"/>
<path d="M854.5 196.2l1.5 -0.4M860.9 191.3l2 1M830.8 199.3l1.8 -0.6M857.6 207.1l1.2 -2.6M825.6 204.1l2.4 -1.3M881.8 200l1 1.9M873.6 218.7l3.2 1.2M847.7 200.8l-0.1 -2.2M871.1 211.9l2.9 1.1M828.3 212.4l-1.9 -1.6M833.6 201l2.6 -1.1M893.6 210.5l2.9 1.7M846.8 208.5l0.1 -3.1M850.5 196.9l1 -3.7M889 197.6l1.7 0.6M886.2 217.6l-0.5 2.5M826 196.5l1.7 -2.9M901.7 208.1l-0 1.9M840.2 194.1l2.1 -1.4M900.3 215.5l0.5 2M851.8 191l3.4 -1.1M862.9 194.3l1.1 -1.2M878.9 216.7l1.5 -0.1M898.5 195.3l-0.5 2.4M822.3 214.1l0.5 -2.9M859.5 206.3l2.1 -1.5M864.8 208.8l1.5 -2M870.7 192.4l2.4 2.3M848.5 209.8l0.8 -2.4M851.5 209.7l-0.8 -3.6M864.4 209l2 0.3M881.2 210.7l2.9 0.2M866.4 218.3l1.9 -1M857.3 197.8l2.4 -3.1M838.2 212.5l-2 -3M874 195.6l2.6 2M840.2 203.7l1.2 -3M880.8 217.3l2.4 2.7M876.4 214l2.7 -0.5M862.6 215.2l3.1 0.2M898.8 205.5l1 3.1M865.5 219l1.8 -2M829.4 201.2l1.4 -2.1M825.8 191.3l3.6 -1.5M858.8 193.6l2.4 -2.9M829 219.7l-1.4 -1.1M880.3 200.6l3.3 1.5M886.3 212.1l2.1 0.2M841.1 205.4l0.7 -2.3M861.1 214.5l1.3 -2" fill="none" stroke="#0a0a14" stroke-width="0.6" stroke-linecap="round" opacity="0.45"/>
<path d="M820.9 248.6h.8M766.8 289.9h.8M805.2 215.2h.8M888.5 170.4h.8M942.9 226.7h.8M906.5 233.1h.8M774.1 202.3h.8M788.2 292.7h.8M921.7 257.6h.8M914.8 246.6h.8M806.7 301.6h.8M901 203.6h.8M842.4 170.8h.8M944 233h.8M849.8 171.8h.8M915 177.5h.8M875 254.2h.8M871.2 280.9h.8M939 260.7h.8M843.3 198.3h.8M937.2 237h.8M827.1 238.6h.8M817.9 185.1h.8M875.7 195.9h.8M911.6 265.3h.8M821.6 230.5h.8M933.5 209.8h.8M822.4 232.5h.8M802.3 201h.8M922.2 249.4h.8M876.9 265.3h.8M787 219.2h.8M772.2 300.8h.8M826.3 244.6h.8M868.3 186.2h.8M889.4 290.6h.8" fill="none" stroke="#e8eef8" stroke-width=".8" opacity=".7"/>
<!--/strokes-->
<rect x="760" y="167" width="186" height="136" filter="url(#nz2)" opacity=".3"/>
</g>
<rect x="759.500" y="166.500" width="186" height="136" fill="none" stroke="#050505" stroke-width="1.200"/>
<!-- title bar -->
<rect x="757.500" y="147.500" width="190.500" height="16.500" rx="5" fill="url(#bar)" stroke="#0a0a0a" stroke-width="1.400"/>
<text x="762" y="160" font-family="Liberation Serif, serif" font-weight="bold" font-size="11.500" fill="#0b0b0b" textLength="74" lengthAdjust="spacingAndGlyphs">Bitterblossom</text>
<circle cx="928.200" cy="157" r="4.300" fill="#bdb7b4"/>
<path d="M924.200 158.500A4.600 4.600 0 0 0 931 161" stroke="#111" stroke-width="1" fill="none"/>
<text x="926" y="160.300" font-family="Liberation Serif, serif" font-weight="bold" font-size="9.500" fill="#0c0c0c">1</text>
<circle cx="938.700" cy="157" r="4.300" fill="#bdb7b4" stroke="#141414" stroke-width=".8"/>
<path d="M936.500 156.300A2.200 2.200 0 0 1 940.900 156.300C940.900 157.600 940.200 158 939.900 158.300V159.800H937.500V158.300C937.200 158 936.500 157.600 936.500 156.300Z" fill="#141414"/>
<!-- type bar -->
<rect x="757" y="306" width="191.500" height="16" rx="5" fill="url(#bar)" stroke="#0a0a0a" stroke-width="1.400"/>
<text x="764.500" y="317.300" font-family="Liberation Serif, serif" font-weight="bold" font-size="9.300" fill="#0b0b0b" textLength="128" lengthAdjust="spacingAndGlyphs">Tribal Enchantment — Faerie</text>
<path d="M936.300 318.500V314A4.200 4.600 0 0 1 944.700 314V318.500Z" fill="#c9a044" stroke="#1a1408" stroke-width=".9"/>
<circle cx="940.500" cy="314.500" r="2" fill="#e8dcb0"/>
<!-- text box -->
<rect x="759.600" y="324.300" width="185.800" height="85" fill="#e5e4e2" stroke="#060606" stroke-width="1.200"/>
<rect x="760" y="325" width="185" height="84" filter="url(#nz3)" opacity=".5"/>
<g font-family="Liberation Serif, serif" font-size="9.400" fill="#262626">
<text x="764.500" y="344" textLength="175" lengthAdjust="spacingAndGlyphs">At the beginning of your upkeep, you lose</text>
<text x="764.500" y="353.300" textLength="164" lengthAdjust="spacingAndGlyphs">1 life and put a 1/1 black Faerie Rogue</text>
<text x="764.500" y="362.500" textLength="148" lengthAdjust="spacingAndGlyphs">creature token with flying into play.</text>
<g font-style="italic">
<text x="764.500" y="378" textLength="171" lengthAdjust="spacingAndGlyphs">In Lorwyn’s brief evenings, the sun pauses at</text>
<text x="764.500" y="387.200" textLength="177" lengthAdjust="spacingAndGlyphs">the horizon long enough for a certain species of</text>
<text x="764.500" y="396.400" textLength="172" lengthAdjust="spacingAndGlyphs">violet to bloom with the fragrance of mischief.</text>
</g>
</g>
<!-- bottom -->
<rect x="753" y="410.500" width="198" height="17.500" filter="url(#nz4)" opacity=".8"/>
<rect x="945.800" y="166" width="5.500" height="244" filter="url(#nz4)" opacity=".6"/>
<rect x="752.600" y="166" width="6.500" height="244" filter="url(#nz4)" opacity=".6"/>
<path d="M757 421L774 418.500L775.500 420Z" fill="#e8e8e8"/>
<text x="776.800" y="420.500" font-family="Liberation Serif, serif" font-weight="bold" font-size="7.600" fill="#f2f2f2" textLength="44.500" lengthAdjust="spacingAndGlyphs">Rebecca Guay</text>
<text x="757" y="427.300" font-family="Liberation Serif, serif" font-size="4.600" fill="#b8bcc0" textLength="118" lengthAdjust="spacingAndGlyphs">™ &amp; © 1993-2008 Wizards of the Coast, Inc. 58/150</text>
</svg>

<div id="track">Track</div>
</body>
</html>
